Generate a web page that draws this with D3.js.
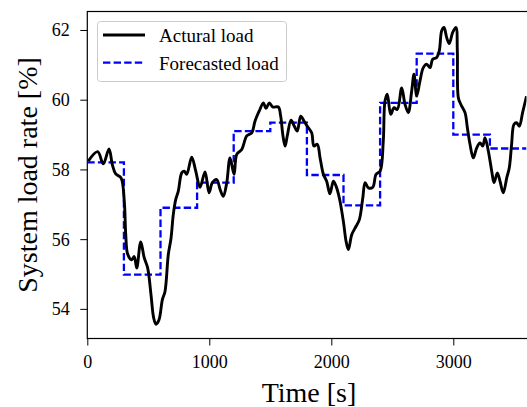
<!DOCTYPE html>
<html><head><meta charset="utf-8">
<script src="https://cdn.jsdelivr.net/npm/d3@7"></script>
<style>body{margin:0;background:#fff}svg{display:block}text{font-family:"Liberation Serif","DejaVu Serif",serif}</style>
</head><body><svg id="c" width="527" height="407"></svg>
<script>
const actualTime = [8,85,131,178,205,233,276,303,315,331,364,385,405,438,467,495,522,544,563,588,615,637,664,686,705,725,746,774,795,815,856,889,924,965,998,1025,1061,1088,1115,1143,1170,1203,1225,1266,1307,1348,1375,1410,1443,1465,1492,1520,1566,1585,1602,1621,1639,1670,1697,1721,1749,1776,1803,1839,1858,1885,1908,1935,1962,1989,2017,2039,2066,2099,2121,2140,2168,2203,2230,2258,2277,2304,2340,2367,2400,2426,2440,2459,2487,2514,2541,2577,2604,2631,2659,2678,2700,2727,2754,2782,2809,2831,2864,2885,2905,2924,2946,2967,2995,3022,3033,3041,3061,3096,3115,3137,3164,3192,3219,3241,3260,3287,3315,3334,3361,3383,3410,3438,3459,3478,3497,3519,3541,3568,3600];
const actualLoad = [58.24,58.51,58.16,58.59,58.14,57.87,57.76,57.09,56.14,55.57,55.41,55.5,55.17,55.92,55.46,55.17,54.41,53.74,53.56,53.69,54.26,54.5,55.56,56.02,56.71,57.14,57.38,57.90,57.95,57.86,58.35,57.95,57.49,57.93,57.33,57.62,57.71,57.43,57.23,57.62,58.33,57.86,58.43,58.57,58.96,59.05,59.39,59.68,59.91,59.75,59.91,59.79,59.79,59.53,59.01,58.67,58.96,59.41,59.24,59.10,59.53,59.39,59.24,59.05,58.67,58.72,58.33,57.86,57.66,57.30,57.66,57.52,57.18,56.51,55.94,55.70,56.13,56.37,56.56,57.18,57.62,57.47,57.49,57.86,57.95,58.81,59.96,60.16,59.58,59.77,59.72,60.34,59.87,59.63,60.25,60.73,60.11,60.54,60.92,61.02,60.92,61.16,61.21,61.40,61.98,62.07,61.78,61.61,61.93,62.07,61.40,60.06,59.87,59.63,59.20,58.72,58.33,58.62,58.76,58.67,58.91,58.53,57.95,57.62,57.90,57.66,57.33,57.76,58.05,58.72,59.29,59.34,59.24,59.63,60.1];
const forecastTime = [0,300,600,900,1200,1500,1800,2100,2400,2700,3000,3300,3600];
const forecastLoad = [58.2,54.98,56.9,57.62,59.1,59.34,57.84,56.97,59.91,61.32,59.0,58.6,58.6];
const xTicks = [0,1000,2000,3000];
const yTicks = [54,56,58,60,62];
const seriesNames = ["Actural load","Forecasted load"];

const svg = d3.select("#c");
const L = 87.3, R = 526.5, T = 11.5, B = 338.5;
const x = d3.scaleLinear().domain([0,3600]).range([L,R]);
const y = d3.scaleLinear().domain([53.15,62.53]).range([B,T]);

svg.append("defs").append("clipPath").attr("id","clip").append("rect")
  .attr("x",L).attr("y",T).attr("width",R-L).attr("height",B-T);

const g = svg.append("g").attr("clip-path","url(#clip)");
const actual = actualTime.map((t,i)=>[t,actualLoad[i]]);
const fc = forecastTime.map((t,i)=>[t,forecastLoad[i]]);

g.append("path").datum(fc)
  .attr("d", d3.line().x(d=>x(d[0])).y(d=>y(d[1])).curve(d3.curveStepAfter))
  .attr("fill","none").attr("stroke","#0000ff").attr("stroke-width",2.3)
  .attr("stroke-dasharray","7.4,3.2");
g.append("path").datum(actual)
  .attr("d", d3.line().x(d=>x(d[0])).y(d=>y(d[1])).curve(d3.curveCatmullRom.alpha(0.5)))
  .attr("fill","none").attr("stroke","#000").attr("stroke-width",2.9)
  .attr("stroke-linejoin","round");

// axes
const xa = svg.append("g").attr("transform",`translate(0,${B})`)
  .call(d3.axisBottom(x).tickValues(xTicks).tickFormat(d3.format("d")).tickSize(7).tickSizeOuter(0));
const ya = svg.append("g").attr("transform",`translate(${L},0)`)
  .call(d3.axisLeft(y).tickValues(yTicks).tickFormat(d3.format("d")).tickSize(7).tickSizeOuter(0));
[xa,ya].forEach(a=>{a.select(".domain").remove();a.selectAll("line").attr("stroke","#000").attr("stroke-width",1);
  a.selectAll("text").attr("font-family","Liberation Serif").attr("font-size",18).attr("fill","#000");});
xa.selectAll("text").attr("dy","0").attr("y",29.5);
ya.selectAll("text").attr("x",-17.5).attr("dy","0.33em");

// frame
svg.append("rect").attr("x",L).attr("y",T).attr("width",R-L+5).attr("height",B-T)
  .attr("fill","none").attr("stroke","#000").attr("stroke-width",1.2);

svg.append("text").attr("x",309).attr("y",401.5).attr("text-anchor","middle")
  .attr("font-size",28).text("Time [s]");
svg.append("text").attr("transform",`translate(37,175) rotate(-90)`).attr("text-anchor","middle")
  .attr("font-size",28).text("System load rate [%]");

// legend
const lg = svg.append("g");
lg.append("rect").attr("x",97.5).attr("y",21.5).attr("width",189).attr("height",60).attr("rx",3)
  .attr("fill","#fff").attr("fill-opacity",0.8).attr("stroke","#cccccc").attr("stroke-width",1);
lg.append("line").attr("x1",103).attr("x2",145).attr("y1",35).attr("y2",35).attr("stroke","#000").attr("stroke-width",2.9);
lg.append("line").attr("x1",103).attr("x2",145).attr("y1",62.7).attr("y2",62.7).attr("stroke","#0000ff").attr("stroke-width",2.3).attr("stroke-dasharray","7.4,3.2");
lg.selectAll("text.l").data(seriesNames).join("text").attr("class","l")
  .attr("x",159).attr("y",(d,i)=>i?69.5:41.5).attr("font-size",19).text(d=>d);
</script></body></html>
